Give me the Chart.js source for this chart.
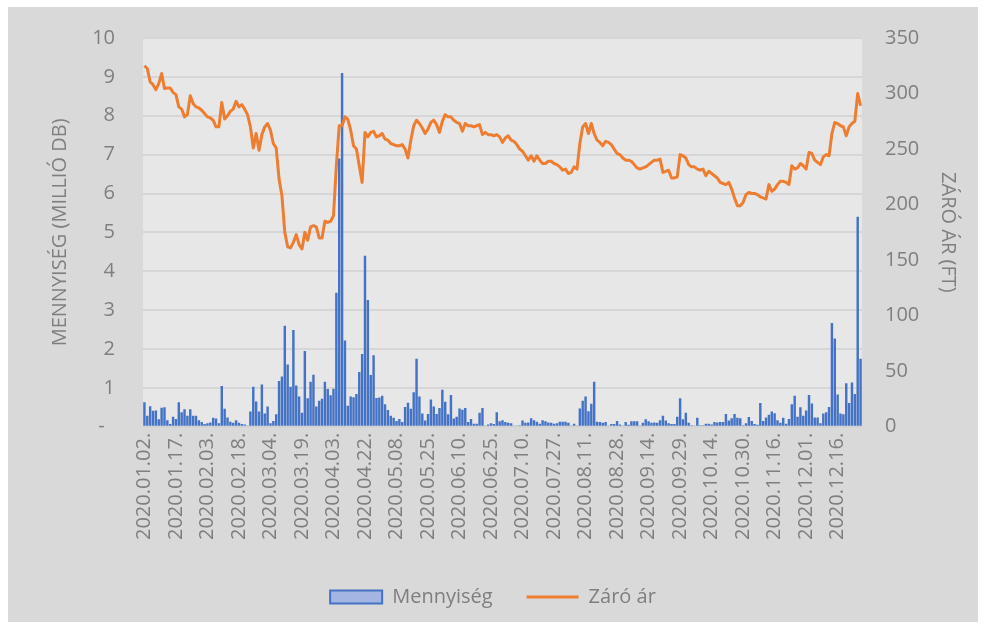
<!DOCTYPE html>
<html>
<head>
<meta charset="utf-8">
<script src="https://cdn.jsdelivr.net/npm/chart.js@4.4.1/dist/chart.umd.min.js"></script>
<style>
    html, body { margin: 0; padding: 0; background: #ffffff; }
    #wrap { position: absolute; left: 8px; top: 7px; width: 970px; height: 615px; background: #d9d9d9; }
</style>
</head>
<body>
<div id="wrap"><canvas id="chart" width="970" height="615"></canvas></div>
<script>
// Trading days of 2020 (BÉT closed on weekends and these days)
const holidays = ['2020-01-01', '2020-04-10', '2020-04-13', '2020-05-01', '2020-06-01',
    '2020-08-20', '2020-08-21', '2020-10-23', '2020-12-24', '2020-12-25', '2020-12-31'];

const tickLabels = ['2020.01.02.', '2020.01.17.', '2020.02.03.', '2020.02.18.', '2020.03.04.',
    '2020.03.19.', '2020.04.03.', '2020.04.22.', '2020.05.08.', '2020.05.25.', '2020.06.10.',
    '2020.06.25.', '2020.07.10.', '2020.07.27.', '2020.08.11.', '2020.08.28.', '2020.09.14.',
    '2020.09.29.', '2020.10.14.', '2020.10.30.', '2020.11.16.', '2020.12.01.', '2020.12.16.'];

// Mennyiség (millió db)
const volume = [
    0.63, 0.28, 0.53, 0.41, 0.42, 0.19, 0.49, 0.50, 0.17, 0.07,
    0.26, 0.20, 0.63, 0.37, 0.45, 0.28, 0.45, 0.28, 0.28, 0.17,
    0.12, 0.07, 0.09, 0.11, 0.23, 0.21, 0.09, 1.05, 0.46, 0.24,
    0.13, 0.10, 0.17, 0.10, 0.07, 0.06, 0.03, 0.39, 1.03, 0.65,
    0.39, 1.09, 0.34, 0.52, 0.09, 0.15, 0.32, 1.18, 1.29, 2.60,
    1.60, 1.03, 2.49, 1.06, 0.78, 0.36, 1.95, 0.73, 1.16, 1.34,
    0.52, 0.67, 0.72, 1.16, 0.97, 0.81, 0.98, 3.45, 6.90, 9.10,
    2.22, 0.54, 0.78, 0.76, 0.84, 1.41, 1.87, 4.40, 3.26, 1.33,
    1.84, 0.74, 0.75, 0.80, 0.58, 0.43, 0.28, 0.23, 0.15, 0.20,
    0.12, 0.51, 0.62, 0.46, 0.89, 1.75, 0.78, 0.34, 0.16, 0.33,
    0.70, 0.52, 0.33, 0.48, 0.95, 0.64, 0.32, 0.82, 0.21, 0.26,
    0.47, 0.44, 0.48, 0.12, 0.20, 0.08, 0.08, 0.36, 0.48, 0.03,
    0.06, 0.09, 0.07, 0.37, 0.14, 0.17, 0.12, 0.10, 0.09, 0.03,
    0.03, 0.04, 0.16, 0.10, 0.11, 0.22, 0.17, 0.13, 0.08, 0.17,
    0.14, 0.11, 0.10, 0.08, 0.09, 0.13, 0.13, 0.13, 0.10, 0.03,
    0.08, 0.02, 0.47, 0.67, 0.78, 0.40, 0.59, 1.16, 0.13, 0.12,
    0.10, 0.12, 0.03, 0.07, 0.07, 0.15, 0.06, 0.03, 0.12, 0.05,
    0.14, 0.14, 0.14, 0.03, 0.10, 0.19, 0.14, 0.10, 0.11, 0.10,
    0.17, 0.28, 0.16, 0.09, 0.07, 0.07, 0.26, 0.73, 0.19, 0.36,
    0.10, 0.04, 0.03, 0.23, 0.04, 0.04, 0.08, 0.08, 0.06, 0.12,
    0.11, 0.12, 0.12, 0.33, 0.16, 0.22, 0.33, 0.23, 0.22, 0.04,
    0.09, 0.25, 0.15, 0.07, 0.05, 0.61, 0.15, 0.24, 0.31, 0.39,
    0.35, 0.17, 0.10, 0.23, 0.08, 0.20, 0.58, 0.80, 0.26, 0.50,
    0.28, 0.42, 0.82, 0.60, 0.24, 0.24, 0.09, 0.34, 0.37, 0.51,
    2.67, 2.27, 0.83, 0.34, 0.32, 1.12, 0.61, 1.14, 0.84, 5.40,
    1.75
];

// Záró ár (Ft)
const closePrice = [
    325, 322.5, 310.5, 308, 303.5, 309, 318, 304.5, 305, 305,
    301, 299, 288, 286, 279, 281, 298, 291, 288, 287,
    285, 282, 279, 278, 276, 270, 270, 292, 277, 280,
    284, 286, 293, 288, 290, 286, 281, 270, 251, 264,
    249, 263, 270, 273, 267, 255, 251, 223, 208, 175,
    162, 161, 166, 173, 164, 160, 175, 168, 180, 181,
    180, 170, 170, 185, 184, 185, 190, 235, 271, 271,
    279, 277, 267, 253, 250, 235, 220, 265, 261, 265,
    266, 261, 262, 264, 259, 258, 255, 254, 253, 253,
    254, 250, 242, 258, 271, 276, 273, 269, 264, 268,
    274, 276, 272, 265, 275, 281, 279, 279, 276, 274,
    273, 266, 273, 271, 271, 270, 271, 272, 263, 265,
    263, 263, 262, 263, 261, 256, 260, 262, 258, 257,
    254, 250, 248, 244, 240, 244, 239, 244, 240, 237,
    237, 239, 239, 237, 236, 234, 231, 232, 228, 229,
    234, 232, 255, 270, 273, 264, 273, 264, 258, 256,
    253, 257, 256, 254, 250, 246, 245, 242, 240, 240,
    239, 236, 233, 232, 233, 234, 236, 238, 240, 240,
    241, 229, 230, 231, 224, 224, 225, 245, 244, 242,
    236, 234, 234, 232, 231, 232, 226, 230, 228, 226,
    224, 220, 219, 218, 220, 214, 206, 199, 199, 202,
    209, 211, 210, 210, 209, 207, 206, 205, 218, 212,
    214, 218, 221, 221, 220, 218, 235, 232, 233, 237,
    235, 232, 247, 246, 240, 238, 236, 243, 245, 244,
    264, 274, 273, 271, 270, 262, 270, 273, 275, 300,
    289
];

const dates = [];
for (let d = new Date(Date.UTC(2020, 0, 1)); d.getUTCFullYear() === 2020; d.setUTCDate(d.getUTCDate() + 1)) {
    const iso = d.toISOString().slice(0, 10);
    const dow = d.getUTCDay();
    if (dow === 0 || dow === 6 || holidays.includes(iso)) continue;
    dates.push(iso.replace(/-/g, '.') + '.');
}

const FONT = '"Open Sans", sans-serif';
const TEXT = '#7f7f7f';

// plot area background
const plotBg = {
    id: 'plotBg',
    beforeDraw(chart) {
        const {ctx, chartArea: a} = chart;
        ctx.save();
        ctx.fillStyle = '#e7e7e7';
        ctx.fillRect(a.left, a.top, a.right - a.left, a.bottom - a.top);
        ctx.restore();
    }
};

new Chart(document.getElementById('chart'), {
    data: {
        labels: dates,
        datasets: [{
            type: 'bar',
            label: 'Mennyiség',
            data: volume,
            yAxisID: 'y',
            backgroundColor: '#4472c4',
            barPercentage: 0.85,
            categoryPercentage: 1.0,
            order: 1
        }, {
            type: 'line',
            label: 'Záró ár',
            data: closePrice,
            yAxisID: 'y1',
            borderColor: '#ed7d31',
            borderWidth: 3,
            borderJoinStyle: 'round',
            pointRadius: 0,
            tension: 0,
            order: 0
        }]
    },
    options: {
        responsive: false,
        animation: false,
        layout: { padding: { top: 31, left: 0, right: 0, bottom: 5 } },
        plugins: {
            tooltip: { enabled: false },
            legend: {
                position: 'bottom',
                labels: {
                    usePointStyle: true,
                    pointStyleWidth: 52,
                    boxWidth: 52,
                    boxHeight: 13,
                    padding: 34,
                    color: TEXT,
                    font: { family: FONT, size: 20 },
                    generateLabels: (chart) => Chart.defaults.plugins.legend.labels.generateLabels(chart)
                        .sort((a, b) => a.datasetIndex - b.datasetIndex)
                        .map(item => item.datasetIndex === 0
                            ? Object.assign(item, { pointStyle: 'rect', fillStyle: '#a3b5e2', strokeStyle: '#4472c4', lineWidth: 2 })
                            : Object.assign(item, { pointStyle: 'line', strokeStyle: '#ed7d31', lineWidth: 3 }))
                }
            }
        },
        scales: {
            x: {
                offset: true,
                afterFit: (scale) => { scale.height += 7; },
                grid: { display: false, drawTicks: false },
                border: { display: true, color: '#d0d0d0' },
                ticks: {
                    autoSkip: false,
                    minRotation: 90,
                    maxRotation: 90,
                    padding: 6,
                    color: TEXT,
                    font: { family: FONT, size: 20 },
                    callback: function (value) {
                        const l = this.getLabelForValue(value);
                        return tickLabels.includes(l) ? l : '';
                    }
                }
            },
            y: {
                position: 'left',
                min: 0,
                max: 10,
                afterFit: (scale) => { scale.width = 135; },
                grid: { color: '#d6d6d6', lineWidth: 2, drawTicks: true, tickLength: 25, tickColor: 'rgba(0,0,0,0)' },
                border: { display: false },
                ticks: {
                    stepSize: 1,
                    padding: 3,
                    color: TEXT,
                    font: { family: FONT, size: 20 },
                    callback: (v) => v === 0 ? '-  ' : v
                },
                title: {
                    display: true,
                    text: 'MENNYISÉG (MILLIÓ DB)',
                    color: TEXT,
                    font: { family: FONT, size: 20 },
                    padding: { top: 40, bottom: 0 }
                }
            },
            y1: {
                position: 'right',
                min: 0,
                max: 350,
                afterFit: (scale) => { scale.width = 116; },
                grid: { display: false, drawTicks: true, tickLength: 20, tickColor: 'rgba(0,0,0,0)' },
                border: { display: false },
                ticks: {
                    stepSize: 50,
                    padding: 3,
                    color: TEXT,
                    font: { family: FONT, size: 20 }
                },
                title: {
                    display: true,
                    text: 'ZÁRÓ ÁR (FT)',
                    color: TEXT,
                    font: { family: FONT, size: 20 },
                    padding: { top: 18, bottom: 0 }
                }
            }
        }
    },
    plugins: [plotBg]
});
</script>
</body>
</html>
